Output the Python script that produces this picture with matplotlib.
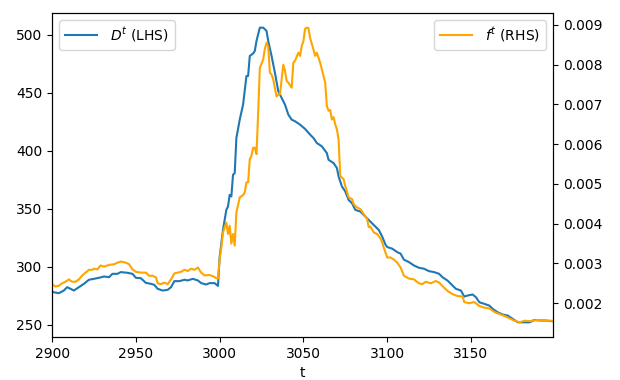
import matplotlib
matplotlib.use("Agg")
import matplotlib.pyplot as plt

# D^t
t_D = [2900, 2901, 2904, 2907, 2909, 2911, 2913, 2916, 2919, 2922, 2925, 2928,
       2931, 2934, 2936, 2939, 2941, 2945, 2948, 2950, 2953, 2956, 2959, 2961,
       2963, 2966, 2969, 2971, 2973, 2976, 2979, 2981, 2984, 2987, 2989, 2992,
       2994, 2997, 2999, 3000, 3002, 3004, 3005, 3006, 3007, 3008, 3009, 3010,
       3012, 3014, 3016, 3017, 3018, 3020, 3021, 3022, 3024, 3026, 3028, 3029,
       3031, 3033, 3035, 3037, 3039, 3041, 3043, 3045, 3048, 3051, 3054, 3056,
       3058, 3061, 3064, 3065, 3068, 3070, 3071, 3073, 3075, 3077, 3079, 3081,
       3084, 3086, 3089, 3092, 3095, 3097, 3099, 3100, 3103, 3106, 3108, 3110,
       3113, 3116, 3119, 3122, 3125, 3128, 3131, 3133, 3136, 3138, 3141, 3144,
       3146, 3148, 3151, 3153, 3155, 3158, 3161, 3163, 3166, 3169, 3172, 3175,
       3178, 3181, 3185, 3188, 3191, 3194, 3199]
D = [278.5, 277.9, 277.1, 279.4, 282.3, 280.9, 279.4, 282.3, 285.2, 288.7, 289.5, 290.4,
     291.5, 290.9, 293.8, 293.8, 295.3, 294.7, 293.8, 290.4, 290.0, 286.0, 285.2, 284.3,
     280.9, 279.4, 280.0, 282.3, 287.5, 287.5, 288.7, 288.1, 289.5, 288.1, 285.8, 284.6,
     285.8, 285.8, 283.4, 308.0, 331.6, 348.9, 351.8, 361.9, 360.5, 379.2, 380.6, 410.9,
     426.7, 439.7, 464.3, 464.3, 481.6, 483.8, 485.9, 494.5, 506.0, 506.0, 503.2, 494.5,
     481.6, 467.1, 451.3, 445.5, 439.7, 431.1, 426.7, 425.3, 422.4, 418.7, 413.8, 410.9,
     406.6, 403.7, 397.9, 392.1, 389.3, 385.0, 377.8, 369.1, 364.8, 357.5, 354.7, 348.9,
     347.5, 344.6, 340.2, 335.9, 331.6, 326.0, 319.0, 316.9, 315.5, 312.5, 311.2, 306.0,
     303.9, 301.0, 299.0, 298.2, 296.1, 295.3, 293.8, 290.9, 288.0, 285.2, 280.9, 279.4,
     274.2, 275.1, 276.0, 273.6, 269.3, 267.9, 266.4, 263.6, 260.6, 258.7, 257.8, 254.9,
     252.0, 252.0, 252.0, 254.1, 253.6, 253.6, 252.9]

# f^t
t_f = [2900, 2902, 2904, 2906, 2908, 2910, 2912, 2914, 2916, 2918, 2920, 2922,
       2924, 2925, 2927, 2929, 2931, 2933, 2935, 2937, 2939, 2941, 2944, 2946,
       2948, 2950, 2953, 2956, 2958, 2960, 2962, 2963, 2965, 2967, 2969, 2971,
       2973, 2975, 2977, 2979, 2981, 2983, 2985, 2987, 2989, 2991, 2994, 2996,
       2998, 2999, 3000, 3001, 3002, 3004, 3005, 3006, 3007, 3008, 3009, 3010,
       3012, 3014, 3015, 3016, 3017, 3018, 3019, 3020, 3021, 3022, 3023, 3024,
       3026, 3027, 3028, 3029, 3030, 3031, 3032, 3033, 3034, 3035, 3036, 3037,
       3038, 3039, 3040, 3041, 3043, 3044, 3045, 3046, 3047, 3048, 3049, 3050,
       3051, 3052, 3053, 3054, 3056, 3057, 3058, 3060, 3062, 3063, 3064, 3065,
       3066, 3067, 3068, 3069, 3070, 3071, 3072, 3074, 3075, 3077, 3079, 3080,
       3082, 3084, 3086, 3088, 3089, 3090, 3092, 3094, 3096, 3097, 3098, 3100,
       3102, 3104, 3106, 3108, 3110, 3113, 3116, 3119, 3121, 3123, 3126, 3129,
       3131, 3134, 3136, 3139, 3142, 3145, 3146, 3149, 3152, 3155, 3158, 3161,
       3164, 3167, 3170, 3173, 3176, 3179, 3182, 3185, 3188, 3191, 3194, 3199]
f = [0.00248, 0.00242, 0.00244, 0.00250, 0.00254, 0.00260, 0.00254, 0.00254, 0.00260, 0.00270, 0.00277, 0.00284,
     0.00284, 0.00287, 0.00285, 0.00295, 0.00292, 0.00295, 0.00297, 0.00298, 0.00302, 0.00305, 0.00302, 0.00298,
     0.00285, 0.00279, 0.00277, 0.00277, 0.00269, 0.00269, 0.00265, 0.00250, 0.00248, 0.00252, 0.00248, 0.00260,
     0.00275, 0.00277, 0.00279, 0.00284, 0.00281, 0.00287, 0.00284, 0.00290, 0.00277, 0.00270, 0.00271, 0.00268,
     0.00263, 0.00262, 0.00310, 0.00340, 0.00378, 0.00403, 0.00374, 0.00395, 0.00350, 0.00374, 0.00345, 0.00428,
     0.00466, 0.00472, 0.00479, 0.00504, 0.00504, 0.00562, 0.00571, 0.00591, 0.00591, 0.00575, 0.00679, 0.00792,
     0.00813, 0.00840, 0.00855, 0.00845, 0.00780, 0.00775, 0.00763, 0.00740, 0.00720, 0.00725, 0.00725, 0.00763,
     0.00800, 0.00785, 0.00759, 0.00755, 0.00742, 0.00805, 0.00810, 0.00820, 0.00830, 0.00822, 0.00847, 0.00859,
     0.00890, 0.00893, 0.00892, 0.00867, 0.00838, 0.00822, 0.00830, 0.00805, 0.00771, 0.00755, 0.00696, 0.00684,
     0.00686, 0.00662, 0.00668, 0.00650, 0.00637, 0.00612, 0.00520, 0.00512, 0.00495, 0.00466, 0.00462, 0.00449,
     0.00441, 0.00437, 0.00424, 0.00412, 0.00391, 0.00393, 0.00378, 0.00374, 0.00363, 0.00353, 0.00340, 0.00315,
     0.00315, 0.00310, 0.00302, 0.00290, 0.00269, 0.00262, 0.00260, 0.00250, 0.00248, 0.00254, 0.00250, 0.00256,
     0.00252, 0.00239, 0.00231, 0.00223, 0.00218, 0.00217, 0.00203, 0.00200, 0.00203, 0.00193, 0.00189, 0.00187,
     0.00178, 0.00173, 0.00168, 0.00162, 0.00156, 0.00152, 0.00156, 0.00155, 0.00157, 0.00158, 0.00156, 0.00156]

fig = plt.figure(figsize=(6.2, 3.8), dpi=100)
ax = fig.add_axes([0.084, 0.113, 0.808, 0.853])
ax.plot(t_D, D, color="#1f77b4", label="$D^t$ (LHS)")
ax.set_xlim(t_D[0], t_D[-1])
ax.set_xlabel("t")
ax.legend(loc="upper left", handlelength=2.3, handletextpad=1.0)

#second axis for f
ax2 = ax.twinx()
ax2.plot(t_f, f, color="orange", label="$f^t$ (RHS)")
ax2.legend(loc="upper right", handlelength=2.3, handletextpad=1.0)

fig.savefig("out.png", dpi=100)
